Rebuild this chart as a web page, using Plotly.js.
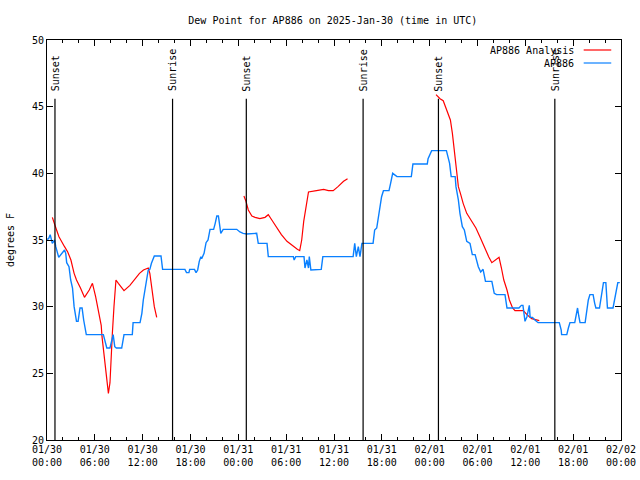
<!DOCTYPE html>
<html>
<head>
<meta charset="utf-8">
<script src="https://cdn.plot.ly/plotly-3.0.1.min.js"></script>
<style>html,body{margin:0;padding:0;background:#fff;}#chart{width:640px;height:480px;}</style>
</head>
<body>
<div id="chart"></div>
<script>
// Hours since 2025-01-30 00:00 UTC
var tickHours = [0, 6, 12, 18, 24, 30, 36, 42, 48, 54, 60, 66, 72];
var tickLabels = ["01/30<br>00:00", "01/30<br>06:00", "01/30<br>12:00", "01/30<br>18:00",
  "01/31<br>00:00", "01/31<br>06:00", "01/31<br>12:00", "01/31<br>18:00",
  "02/01<br>00:00", "02/01<br>06:00", "02/01<br>12:00", "02/01<br>18:00", "02/02<br>00:00"];

// Sunrise / sunset events
var sunHours = [1.0, 15.75, 25.0, 39.65, 49.1, 63.7];
var sunLabels = ["Sunset", "Sunrise", "Sunset", "Sunrise", "Sunset", "Sunrise"];

// AP886 Analysis (null = gap)
var anaHours = [0.67, 0.88, 1.2, 1.5, 1.8, 2.2, 2.6, 3.0, 3.4, 3.7, 4.2, 4.7, 5.3, 5.7, 6.1, 6.5, 6.8, 6.9, 7.15, 7.4, 7.7, 7.9, 8.0, 8.2, 8.4, 8.65, 8.95, 9.66, 10.4, 11.0, 11.6, 12.1, 12.7, 12.9, 13.2, 13.46, 13.76,
  18.0,
  24.7, 24.96, 25.25, 25.7, 26.1, 26.7, 27.35, 27.76, 28.2, 28.8, 29.4, 30.1, 30.9, 31.4, 31.7, 31.95, 32.2, 32.5, 32.8, 33.8, 34.7, 35.3, 35.9, 36.5, 37.2, 37.7,
  43.0,
  48.8, 49.3, 49.7, 50.1, 50.6, 50.85, 51.0, 51.2, 51.4, 51.6, 51.9, 52.2, 52.65, 53.3, 53.8, 54.3, 54.9, 55.4, 55.8, 56.2, 56.7, 57.0, 57.3, 57.7, 58.0, 58.4, 58.7, 59.75, 60.2, 60.8, 61.4, 61.75];
var anaValues = [36.7, 36.25, 35.75, 35.25, 34.9, 34.5, 34.1, 33.5, 32.5, 32.0, 31.4, 30.7, 31.25, 31.75, 30.75, 29.5, 28.6, 27.75, 26.3, 25.1, 23.5, 24.3, 26.1, 28.0, 30.0, 32.0, 31.75, 31.2, 31.6, 32.05, 32.5, 32.75, 32.9, 32.5, 31.0, 30.0, 29.2,
  null,
  38.3, 37.9, 37.25, 36.8, 36.7, 36.6, 36.7, 36.9, 36.5, 35.9, 35.4, 34.9, 34.5, 34.3, 34.2, 35.0, 36.4, 37.5, 38.6, 38.7, 38.8, 38.7, 38.7, 39.0, 39.4, 39.6,
  null,
  45.9, 45.6, 45.45, 44.75, 44.0, 43.0, 42.25, 41.25, 40.0, 39.0, 38.4, 37.75, 37.0, 36.4, 35.9, 35.25, 34.4, 33.75, 33.3, 33.5, 33.7, 32.9, 32.0, 31.25, 30.5, 29.9, 29.7, 29.7, 29.4, 29.1, 29.0, 28.95];

// AP886 observations
var obsHours = [0.0, 0.2, 0.4, 0.67, 0.96, 1.1, 1.47, 1.7, 2.2, 2.35, 2.47, 2.76, 2.97, 3.2, 3.4, 3.7, 3.9, 4.14, 4.4, 4.6, 4.93, 7.07, 7.5, 7.9, 8.3, 8.5, 8.7, 9.37, 9.66, 10.7, 10.8, 11.67, 11.9, 12.08, 12.3, 12.5, 12.7, 12.9, 13.1, 13.46, 14.3, 14.5, 17.3, 17.5, 17.8, 17.9, 18.5, 18.7, 18.9, 19.1, 19.3, 19.4, 19.7, 19.95, 20.2, 20.45, 20.9, 21.1, 21.3, 21.5, 21.7, 21.8, 22.1, 23.8, 24.2, 24.6, 25.05, 26.3, 26.5, 27.6, 27.76, 30.9, 31.0, 31.2, 32.24, 32.36, 32.6, 32.8, 32.9, 33.1, 34.4, 34.6, 38.4, 38.6, 38.8, 39.05, 39.26, 39.5, 40.9, 41.1, 41.36, 41.56, 41.8, 41.97, 42.2, 42.9, 43.1, 43.36, 43.9, 45.7, 45.9, 47.7, 47.8, 48.25, 50.1, 50.5, 50.7, 51.2, 51.3, 51.6, 51.8, 52.1, 52.35, 52.65, 53.06, 53.35, 53.7, 54.1, 54.4, 54.7, 55.0, 55.8, 56.1, 56.4, 57.45, 57.7, 59.2, 59.5, 59.7, 59.96, 60.2, 60.5, 60.6, 60.9, 61.2, 61.6, 64.26, 64.5, 64.55, 65.2, 65.4, 65.6, 66.2, 66.4, 66.55, 66.7, 66.86, 67.5, 67.7, 67.9, 68.1, 68.5, 68.7, 68.85, 69.3, 69.5, 69.8, 70.1, 70.2, 70.3, 71.0, 71.2, 71.4, 71.6, 71.85];
var obsValues = [35.05, 35.1, 35.4, 34.75, 35.0, 34.5, 33.7, 33.9, 34.25, 34.0, 33.3, 33.0, 32.0, 31.4, 30.0, 28.9, 28.9, 29.9, 29.9, 29.0, 27.9, 27.9, 26.9, 26.9, 27.9, 27.0, 26.9, 26.9, 27.9, 27.9, 28.8, 28.8, 29.5, 30.5, 31.25, 32.0, 32.75, 32.8, 33.25, 33.8, 33.8, 32.8, 32.8, 32.55, 32.55, 32.8, 32.8, 32.55, 32.75, 33.4, 33.75, 33.6, 34.0, 34.8, 35.0, 35.8, 35.8, 36.25, 36.8, 36.8, 36.1, 35.5, 35.8, 35.8, 35.6, 35.5, 35.45, 35.5, 34.75, 34.75, 33.75, 33.75, 33.5, 33.75, 33.75, 32.9, 33.5, 32.9, 33.75, 32.75, 32.8, 33.75, 33.75, 34.75, 33.75, 34.5, 33.75, 34.75, 34.75, 35.75, 35.9, 36.6, 37.5, 38.25, 38.7, 38.7, 39.25, 40.0, 39.75, 39.75, 40.7, 40.7, 41.1, 41.7, 41.7, 40.75, 39.75, 39.75, 39.0, 38.0, 37.0, 36.0, 35.75, 34.9, 34.75, 33.9, 33.9, 33.0, 32.6, 32.8, 31.9, 31.9, 31.0, 30.9, 30.9, 29.9, 29.9, 30.1, 30.1, 28.9, 29.25, 30.1, 29.2, 29.2, 29.0, 28.8, 28.8, 28.25, 27.9, 27.9, 28.4, 28.8, 28.8, 29.5, 29.9, 29.3, 28.8, 28.8, 29.75, 30.5, 30.9, 30.9, 30.25, 29.9, 29.9, 30.75, 31.8, 31.8, 31.0, 29.9, 29.9, 30.6, 31.4, 31.8, 31.8];

var seriesNames = ["AP886 Analysis", "AP886"];
var seriesColors = ["#ff0000", "#0a80ff"];

var FONT = "DejaVu Sans Mono, monospace";

var traces = [
  {x: anaHours, y: anaValues, type: "scatter", mode: "lines", name: seriesNames[0],
   connectgaps: false, line: {color: seriesColors[0], width: 1.2}},
  {x: obsHours, y: obsValues, type: "scatter", mode: "lines", name: seriesNames[1],
   line: {color: seriesColors[1], width: 1.4}}
];

var shapes = [];
var annotations = [];
sunHours.forEach(function (h, i) {
  shapes.push({type: "line", xref: "x", yref: "y", x0: h, x1: h, y0: 20, y1: 45.6,
    line: {color: "#000", width: 1.2}});
  annotations.push({xref: "x", yref: "y", x: h, y: 46.0, text: sunLabels[i], textangle: -90,
    showarrow: false, xanchor: "center", yanchor: "bottom", font: {family: FONT, size: 10, color: "#000"}});
});

// legend (gnuplot style: text right-aligned, sample on the right)
var legY = [0.975, 0.9425];
seriesNames.forEach(function (n, i) {
  annotations.push({xref: "paper", yref: "paper", x: 0.922, y: legY[i], text: n, showarrow: false,
    xanchor: "right", yanchor: "middle", font: {family: FONT, size: 10, color: "#000"}});
  shapes.push({type: "line", xref: "paper", yref: "paper", x0: 0.935, x1: 0.983, y0: legY[i], y1: legY[i],
    line: {color: seriesColors[i], width: 1.2}});
});

var layout = {
  width: 640, height: 480,
  margin: {l: 47, r: 19, t: 40, b: 40, pad: 0},
  paper_bgcolor: "#fff", plot_bgcolor: "#fff",
  showlegend: false,
  font: {family: FONT, size: 10, color: "#000"},
  title: {text: "Dew Point for AP886 on 2025-Jan-30 (time in UTC)", x: 0.52, xanchor: "center",
    y: 0.958, yanchor: "middle", font: {family: FONT, size: 10, color: "#000"}},
  xaxis: {
    range: [0, 72], tickmode: "array", tickvals: tickHours, ticktext: tickLabels,
    ticks: "inside", ticklen: 6, tickcolor: "#000", mirror: "allticks",
    showline: true, linecolor: "#000", linewidth: 1, showgrid: false, zeroline: false,
    tickfont: {family: FONT, size: 10, color: "#000"},
    minor: {dtick: 2, ticks: "inside", ticklen: 3, tickcolor: "#000", showgrid: false}
  },
  yaxis: {
    range: [20, 50], dtick: 5, ticks: "inside", ticklen: 6, tickcolor: "#000", mirror: "allticks",
    showline: true, linecolor: "#000", linewidth: 1, showgrid: false, zeroline: false,
    tickfont: {family: FONT, size: 10, color: "#000"},
    title: {text: "degrees F", standoff: 15, font: {family: FONT, size: 10, color: "#000"}}
  },
  shapes: shapes,
  annotations: annotations
};

Plotly.newPlot("chart", traces, layout, {displayModeBar: false, staticPlot: true});
</script>
</body>
</html>
